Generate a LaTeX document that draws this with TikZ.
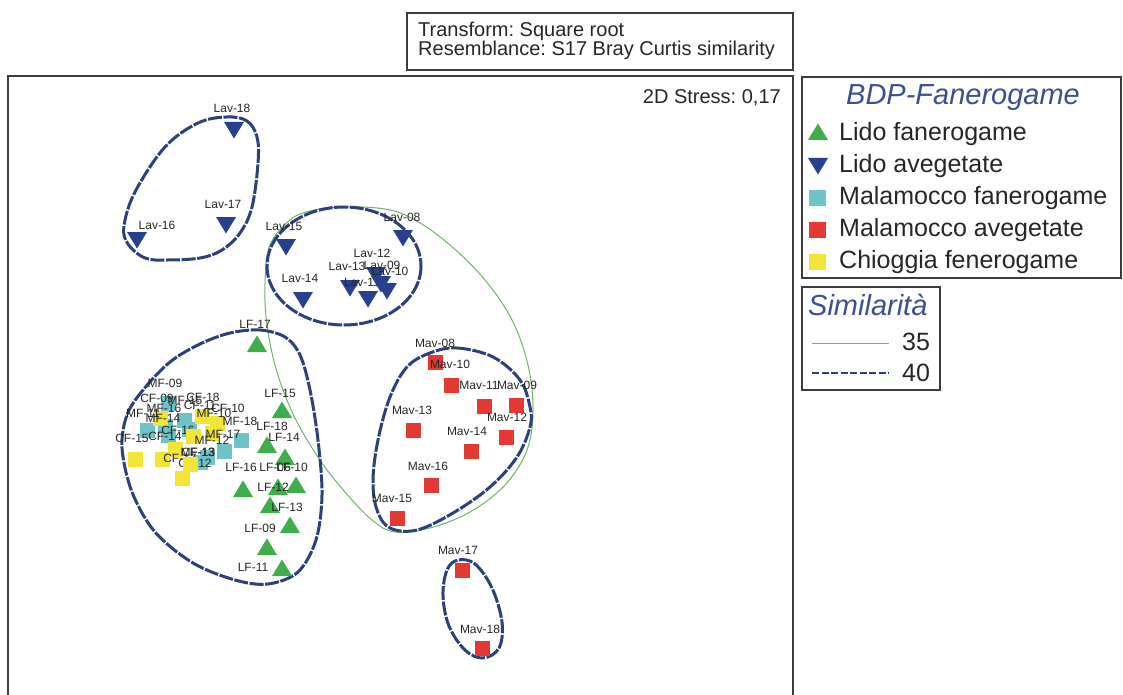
\documentclass[tikz,border=0pt]{standalone}
\usepackage{fontspec}
\setmainfont{Liberation Sans}
\frenchspacing
\definecolor{lavblue}{HTML}{27418F}
\definecolor{lfgreen}{HTML}{3DAE4A}
\definecolor{mfcyan}{HTML}{6CC3C8}
\definecolor{mavred}{HTML}{E23A32}
\definecolor{cfyellow}{HTML}{F2E535}
\definecolor{hullblue}{HTML}{2C4178}
\definecolor{hullgreen}{HTML}{6DB665}
\definecolor{legtitle}{HTML}{3D4F8E}
\definecolor{ink}{HTML}{262626}
\definecolor{framec}{HTML}{3C3C3C}
\tikzset{
  uptri/.pic={\fill[lfgreen] (-10,8) -- (10,8) -- (0,-8.5) -- cycle;},
  dntri/.pic={\fill[lavblue] (-10,-8) -- (10,-8) -- (0,8.5) -- cycle;},
  sqr/.pic={\fill[#1] (-7.5,-7.5) rectangle (7.5,7.5);},
  lab/.style={font=\fontsize{12}{12}\selectfont, text=ink, inner sep=0pt},
  hull40/.style={draw=hullblue, line width=3pt, dash pattern=on 14pt off 1.6pt, line join=round},
  hull35/.style={draw=hullgreen, line width=1pt},
  boxline/.style={draw=framec, line width=1.3pt},
  legtext/.style={font=\fontsize{25}{25}\selectfont, text=ink, inner sep=0pt, anchor=base west},
  legtitle/.style={font=\fontsize{29}{29}\selectfont\itshape, text=legtitle, inner sep=0pt, anchor=base},
  infotext/.style={font=\fontsize{20}{20}\selectfont, text=ink, inner sep=0pt},
}
\begin{document}
\begin{tikzpicture}[x=1pt,y=-1pt]
\useasboundingbox (0,0) rectangle (1123,695);
\fill[white] (0,0) rectangle (1123,695);
\clip (0,0) rectangle (1123,695);

% header box
\draw[boxline] (407,13) rectangle (793,70);
\node[infotext, anchor=base west] (tr) at (418,37) {Transform: Square root};
\node[infotext, anchor=base west] (rs) at (418,56) {Resemblance: S17 Bray Curtis similarity};

% plot frame
\draw[boxline] (8,76) rectangle (793,740);
\node[infotext, anchor=base east] (stress) at (781,104) {2D Stress: 0,17};

% similarity 35 contour
\draw[hull35] plot[smooth cycle, tension=0.6] coordinates {
  (340,207) (385,209) (415,220) (450,245) (485,280) (512,320) (528,365)
  (533,410) (527,450) (505,485) (470,512) (430,528) (395,532) (372,520)
  (345,492) (320,460) (295,418) (277,372) (267,325) (265,283) (270,245)
  (290,220) (310,211)};

% similarity 40 contours
\draw[hull40] plot[smooth cycle, tension=0.6] coordinates {
  (227,117) (247,121) (257,137) (258,163) (252,207) (240,233) (222,250)
  (200,258) (167,260) (145,258) (128,244) (124,226) (135,192) (165,147) (198,123)};
\draw[hull40] (344,266) ellipse [x radius=77, y radius=59];
\draw[hull40] plot[smooth cycle, tension=0.55] coordinates {
  (230,333) (260,330) (285,337) (300,355) (310,390) (318,440) (322,495)
  (316,540) (298,572) (268,584) (235,580) (193,563) (155,532) (132,492)
  (122,448) (127,415) (143,390) (170,362) (200,344)};
\draw[hull40] plot[smooth cycle, tension=0.6] coordinates {
  (430,353) (457,348) (493,357) (520,380) (530,407) (530,427) (517,457)
  (490,487) (453,513) (417,530) (390,528) (377,510) (373,480) (378,440)
  (390,397) (407,367)};
\draw[hull40] plot[smooth cycle, tension=0.6] coordinates {
  (458,560) (475,564) (492,588) (502,622) (499,648) (483,658) (465,650)
  (449,626) (443,596) (447,570)};

% Lido avegetate
\foreach \mx/\my/\lx/\ly/\t in {
  234/130/232/108/Lav-18, 226/225/223/204/Lav-17, 137/240/157/225/Lav-16,
  286/247/284/226/Lav-15, 403/238/402/217/Lav-08, 303/300/300/278/Lav-14,
  350/288/347/266/Lav-13, 368/299/362/282/Lav-11, 376/275/372/253/Lav-12,
  381/284/382/265/Lav-09, 387/291/390/271/Lav-10}{
  \node[lab] at (\lx,\ly) {\t};
  \pic at (\mx,\my) {dntri};
}

% Malamocco avegetate
\foreach \mx/\my/\lx/\ly/\t in {
  435/362/435/343/Mav-08, 451/385/450/364/Mav-10, 484/406/479/385/Mav-11,
  516/405/517/385/Mav-09, 413/430/412/410/Mav-13, 506/437/507/417/Mav-12,
  471/451/467/431/Mav-14, 431/485/428/466/Mav-16, 397/518/392/498/Mav-15,
  462/570/458/550/Mav-17, 482/648/480/629/Mav-18}{
  \node[lab] at (\lx,\ly) {\t};
  \pic at (\mx,\my) {sqr=mavred};
}

% Lido fanerogame
\foreach \mx/\my/\lx/\ly/\t in {
  257/344/255/324/LF-17, 282/410/280/393/LF-15, 267/445/272/426/LF-18,
  285/457/284/437/LF-14, 243/489/241/467/LF-16, 278/487/275/467/LF-06,
  296/485/292/467/LF-10, 270/505/273/487/LF-12, 290/525/287/507/LF-13,
  267/547/260/528/LF-09, 282/568/253/567/LF-11}{
  \node[lab] at (\lx,\ly) {\t};
  \pic at (\mx,\my) {uptri};
}

% Malamocco fanerogame (squares)
\foreach \mx/\my in {168/403, 147/430, 165/426, 168/435, 184/420, 189/429,
  207/457, 200/462, 224/451, 241/440}{
  \pic at (\mx,\my) {sqr=mfcyan};
}
% Chioggia fenerogame
\foreach \mx/\my/\lx/\ly/\t in {
  160/418/157/398/CF-09, 135/459/132/438/CF-15, 162/459/165/436/CF-14,
  175/449/178/430/CF-16, 182/478/180/458/CF-17, 190/464/195/463/CF-12,
  193/436/198/452/CF-13, 202/416/203/397/CF-18, 212/433/200/405/CF-11,
  217/423/228/408/CF-10}{
  \node[lab] at (\lx,\ly) {\t};
  \pic at (\mx,\my) {sqr=cfyellow};
}
% Malamocco fanerogame labels
\foreach \lx/\ly/\t in {
  165/383/MF-09, 143/413/MF-11, 164/408/MF-16, 163/418/MF-14, 185/400/MF-15,
  214/413/MF-10, 212/440/MF-12, 198/452/MF-13, 223/434/MF-17, 240/421/MF-18}{
  \node[lab] at (\lx,\ly) {\t};
}

% legend: groups
\draw[boxline] (802,77) rectangle (1121,278);
\node[legtitle] (lt1) at (963,105) {BDP-Fanerogame};
\pic at (818,132) {uptri};
\node[legtext] (l1) at (839,141) {Lido fanerogame};
\pic at (818,166) {dntri};
\node[legtext] (l2) at (839,172.5) {Lido avegetate};
\fill[mfcyan] (809,190) rectangle (826,206);
\node[legtext] (l3) at (839,204.5) {Malamocco fanerogame};
\fill[mavred] (809,222) rectangle (826,238);
\node[legtext] (l4) at (839,236) {Malamocco avegetate};
\fill[cfyellow] (809,254) rectangle (826,270);
\node[legtext] (l5) at (839,268) {Chioggia fenerogame};

% legend: similarity levels
\draw[boxline] (802,287) rectangle (940,390);
\node[legtitle, anchor=base west] (lt2) at (808,315) {Similarità};
\coordinate (g1) at (812,343);
\coordinate (g2) at (889,343);
\draw[hull35] (g1) -- (g2);
\node[legtext] (s35) at (902,350.5) {35};
\coordinate (d1) at (812,373);
\coordinate (d2) at (889,373);
\draw[draw=hullblue, line width=1.6pt, dash pattern=on 7pt off 2.5pt] (d1) -- (d2);
\node[legtext] (s40) at (902,381) {40};
\end{tikzpicture}
\end{document}
